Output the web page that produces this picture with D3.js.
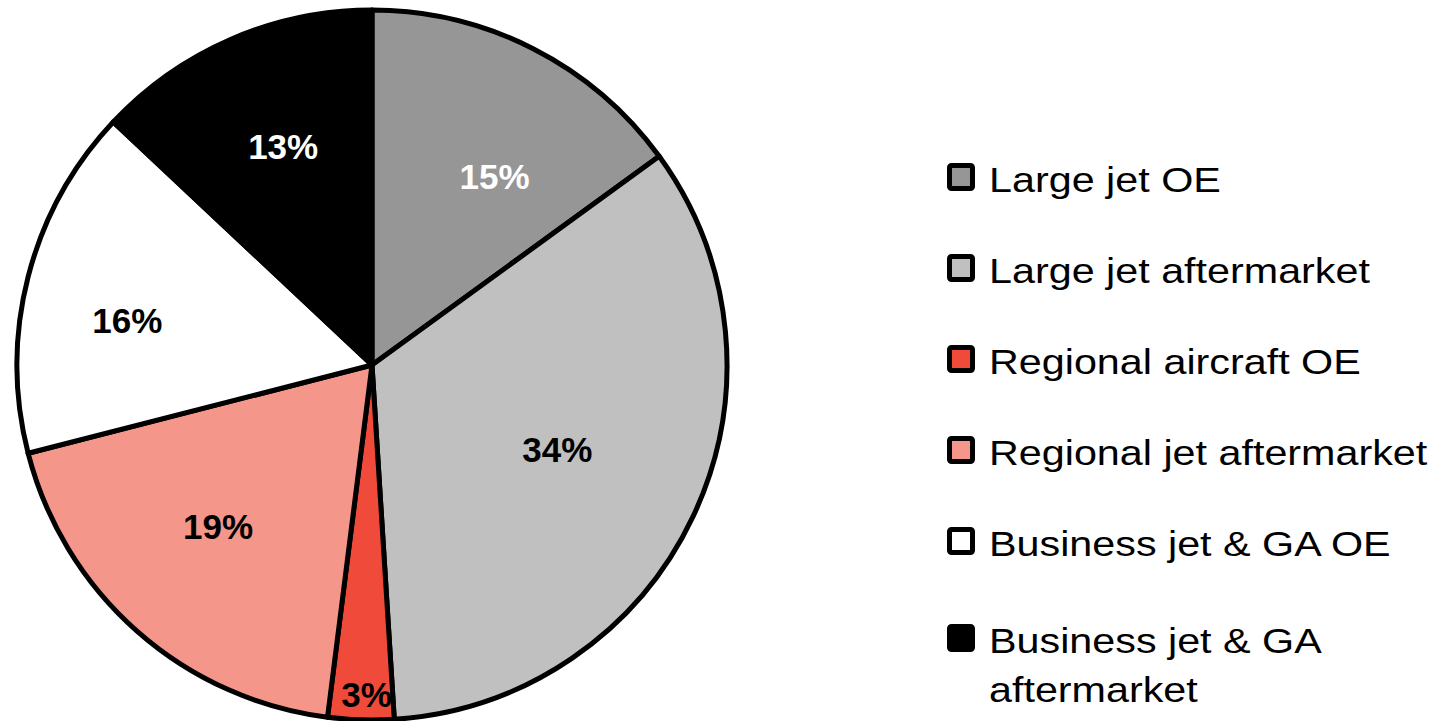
<!DOCTYPE html>
<html>
<head>
<meta charset="utf-8">
<script src="https://cdn.jsdelivr.net/npm/d3@7"></script>
<style>
	body { margin: 0; background: #fff; }
	svg { display: block; font-family: "Liberation Sans", Arial, sans-serif; }
</style>
</head>
<body>
<div id="chart"></div>
<script>
// data
var segments = ['Large jet OE', 'Large jet aftermarket', 'Regional aircraft OE',
	'Regional jet aftermarket', 'Business jet & GA OE', 'Business jet & GA aftermarket'];
var shares = [15, 34, 3, 19, 16, 13];
var legendLines = [['Large jet OE'], ['Large jet aftermarket'], ['Regional aircraft OE'],
	['Regional jet aftermarket'], ['Business jet & GA OE'], ['Business jet & GA', 'aftermarket']];

// styling, one per slice
var fills = ['#969696', '#c0c0c0', '#f04b3a', '#f4968a', '#ffffff', '#000000'];
var labelColours = ['#fff', '#000', '#000', '#000', '#000', '#fff'];
// label placement: distance from centre (share of radius) and a small nudge in px
var labelRadii = [0.63, 0.63, 0.935, 0.63, 0.63, 0.63];
var labelNudge = [[21, 11], [-17, -11], [5, -2], [-6, -6], [-28, 11], [0, -13]];

var width = 1441;
var height = 721;
var cx = 372;
var cy = 365;
var radius = 355;

var svg = d3.select('#chart')
	.append('svg')
	.attr('width', width)
	.attr('height', height);

var pie = d3.pie()
	.sort(null)
	.value(function(d) { return d; });

var arcs = pie(shares);

var arc = d3.arc()
	.innerRadius(0)
	.outerRadius(radius);

var pieGroup = svg.append('g')
	.attr('transform', 'translate(' + cx + ',' + cy + ')');

pieGroup.selectAll('path')
	.data(arcs)
	.enter()
	.append('path')
	.attr('d', arc)
	.attr('fill', function(d, i) { return fills[i]; })
	.attr('stroke', '#000')
	.attr('stroke-width', 5)
	.attr('stroke-linejoin', 'round');

pieGroup.selectAll('text')
	.data(arcs)
	.enter()
	.append('text')
	.attr('transform', function(d, i) {
		var a = (d.startAngle + d.endAngle) / 2;
		var r = radius * labelRadii[i];
		var x = Math.sin(a) * r + labelNudge[i][0];
		var y = -Math.cos(a) * r + labelNudge[i][1];
		return 'translate(' + x + ',' + y + ')';
	})
	.attr('text-anchor', 'middle')
	.attr('dy', '0.36em')
	.attr('font-size', 35)
	.attr('font-weight', 'bold')
	.attr('fill', function(d, i) { return labelColours[i]; })
	.text(function(d) { return d.data + '%'; });

// legend
var legendX = 947;
var firstBaseline = 192;
var rowStep = 91;

var legend = svg.append('g');

var rows = legend.selectAll('g')
	.data(segments)
	.enter()
	.append('g')
	.attr('transform', function(d, i) {
		var extra = legendLines[i].length > 1 ? 6 : 0;
		return 'translate(0,' + (firstBaseline + i * rowStep + extra) + ')';
	});

rows.append('rect')
	.attr('x', legendX + 2.5)
	.attr('y', -26.5)
	.attr('width', 23)
	.attr('height', 23)
	.attr('rx', 2)
	.attr('fill', function(d, i) { return fills[i]; })
	.attr('stroke', '#000')
	.attr('stroke-width', 5);

rows.append('text')
	.attr('transform', 'translate(' + (legendX + 42) + ',0) scale(1.18,1)')
	.attr('font-size', 35)
	.attr('fill', '#000')
	.selectAll('tspan')
	.data(function(d, i) { return legendLines[i]; })
	.enter()
	.append('tspan')
	.attr('x', 0)
	.attr('dy', function(d, j) { return j === 0 ? 0 : 49; })
	.text(function(d) { return d; });
</script>
</body>
</html>
